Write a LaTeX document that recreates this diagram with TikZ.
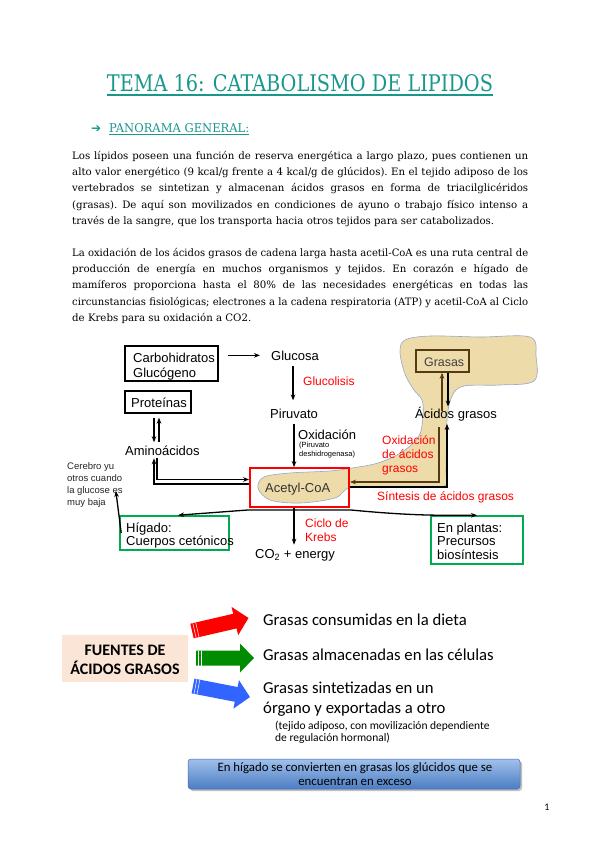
\documentclass[tikz,border=0pt]{standalone}
\usepackage{fontspec}
\setmainfont{Liberation Serif}
\newfontfamily\arialf{Liberation Sans}
\newfontfamily\calibf{Carlito}
\newfontfamily\djvf{DejaVu Sans}
\newfontfamily\djserif{DejaVu Serif}
\usetikzlibrary{arrows.meta,calc}
\definecolor{tealT}{RGB}{24,152,140}
\definecolor{beigeB}{RGB}{238,219,170}
\definecolor{blobedge}{RGB}{150,168,200}
\definecolor{brownA}{RGB}{85,58,20}
\definecolor{greenB}{RGB}{0,170,80}
\definecolor{redA}{RGB}{255,0,0}
\definecolor{greenA}{RGB}{0,140,0}
\definecolor{blueA}{RGB}{50,100,255}
\definecolor{peach}{RGB}{251,229,214}
\definecolor{barTop}{RGB}{160,192,235}
\definecolor{barBot}{RGB}{75,125,195}
\definecolor{barEdge}{RGB}{70,110,175}
\newsavebox\lnbox
\newcommand\jl[1]{\sbox\lnbox{#1}\ifdim\wd\lnbox>456pt \resizebox{456pt}{\height}{\usebox\lnbox}\else\makebox[456pt][s]{#1}\fi}
\tikzset{
 body/.style={anchor=base west, inner sep=0pt, font=\djserif\frenchspacing\fontsize{10.2}{12}\selectfont},
 dia/.style={anchor=base west, inner sep=0pt, font=\arialf\fontsize{13}{15}\selectfont},
 rlab/.style={anchor=base west, inner sep=0pt, text=redA, font=\arialf\fontsize{12}{14}\selectfont},
 smalltxt/.style={anchor=base west, inner sep=0pt, text=black!85, font=\arialf\fontsize{9.5}{11}\selectfont},
 tinytxt/.style={anchor=base west, inner sep=0pt, font=\arialf\fontsize{7.5}{9}\selectfont},
 boxk/.style={draw, line width=1.3pt, inner sep=0pt},
 boxg/.style={draw=greenB, line width=1.6pt, inner sep=0pt},
 arr/.style={-{Stealth[length=6pt,width=4.6pt]}, line width=1.3pt},
 cal/.style={anchor=base west, inner sep=0pt, font=\calibf\fontsize{16.7}{19}\selectfont},
 cals/.style={anchor=base west, inner sep=0pt, font=\calibf\fontsize{11.5}{13}\selectfont},
 bartxt/.style={anchor=base, inner sep=0pt, font=\calibf\fontsize{12.8}{14}\selectfont},
}
\begin{document}
\begin{tikzpicture}[x=1pt,y=-1pt]
\useasboundingbox[fill=white] (0,0) rectangle (600,848);

% ---------- title ----------
\node[anchor=base, inner sep=0pt, text=tealT, font=\djserif] (title) at (300,92) {\resizebox{386pt}{17pt}{TEMA 16: CATABOLISMO DE LIPIDOS}};
\draw[tealT, line width=1.6pt] ([yshift=-2.8pt]title.base west) -- ([yshift=-2.8pt]title.base east);
\node[anchor=base west, inner sep=0pt, text=tealT, font=\djvf\fontsize{12}{12}\selectfont] (parrow) at (91,132) {➔};
\node[anchor=base west, inner sep=0pt, text=tealT, font=\djserif] (pan) at (109,132) {\resizebox{140pt}{9pt}{PANORAMA GENERAL:}};
\draw[tealT, line width=0.8pt] ([yshift=-2.5pt]pan.base west) -- ([yshift=-2.5pt]pan.base east);

% ---------- paragraphs ----------
\node[body] (p1a) at (72,159) {\jl{Los lípidos poseen una función de reserva energética a largo plazo, pues contienen un}};
\node[body] (p1b) at (72,175.3) {\jl{alto valor energético (9 kcal/g frente a 4 kcal/g de glúcidos). En el tejido adiposo de los}};
\node[body] (p1c) at (72,191.6) {\jl{vertebrados se sintetizan y almacenan ácidos grasos en forma de triacilglicéridos}};
\node[body] (p1d) at (72,208) {\jl{(grasas). De aquí son movilizados en condiciones de ayuno o trabajo físico intenso a}};
\node[body] (p1e) at (72,224.3) {través de la sangre, que los transporta hacia otros tejidos para ser catabolizados.};

\node[body] (p2a) at (72,256) {\jl{La oxidación de los ácidos grasos de cadena larga hasta acetil-CoA es una ruta central de}};
\node[body] (p2b) at (72,272.3) {\jl{producción de energía en muchos organismos y tejidos. En corazón e hígado de}};
\node[body] (p2c) at (72,288.6) {\jl{mamíferos proporciona hasta el 80\% de las necesidades energéticas en todas las}};
\node[body] (p2d) at (72,305) {\jl{circunstancias fisiológicas; electrones a la cadena respiratoria (ATP) y acetil-CoA al Ciclo}};
\node[body] (p2e) at (72,321.3) {de Krebs para su oxidación a CO2.};

% ---------- beige blob ----------
\filldraw[fill=beigeB, draw=blobedge, line width=0.6pt]
  plot[smooth cycle, tension=0.55] coordinates {
  (258,488) (264,477) (290,473) (330,471) (352,468) (378,463) (402,452) (419,436)
  (423,415) (422,400) (414,390) (405,374) (400,352) (405,340) (430,336) (480,337)
  (530,337) (536,356) (534,381) (500,385) (464,386) (452,396) (447,420) (446,470)
  (444,486) (400,487) (352,487) (335,498) (300,503) (270,500)};

% ---------- diagram boxes ----------
\node[boxk, minimum width=93pt, minimum height=35pt] (carb) at (171.5,363.5) {};
\node[boxk, minimum width=66pt, minimum height=22pt] (prot) at (158,402) {};
\node[draw=redA, line width=1.8pt, minimum width=99pt, minimum height=39pt, inner sep=0pt] (acetyl) at (299.5,487.5) {};
\node[draw=brownA, line width=1.5pt, minimum width=53pt, minimum height=22pt, inner sep=0pt] (grasas) at (442.5,361) {};
\node[boxg, minimum width=109pt, minimum height=34pt] (higado) at (174.5,533) {};
\node[boxg, minimum width=92pt, minimum height=48pt] (plantas) at (477,540) {};

% ---------- diagram texts ----------
\node[dia] (carbT1) at (133,362) {Carbohidratos};
\node[dia] (carbT2) at (133,377) {Glucógeno};
\node[dia] (glucT) at (271,360) {Glucosa};
\node[rlab] (glucolT) at (303,385) {Glucolisis};
\node[dia] (protT) at (131,407) {Proteínas};
\node[dia] (piruT) at (270,418) {Piruvato};
\node[dia] (aminoT) at (125,455) {Aminoácidos};
\node[dia] (oxT) at (298,439) {Oxidación};
\node[tinytxt] (pdh1) at (299,447.5) {(Piruvato};
\node[tinytxt] (pdh2) at (299,456.5) {deshidrogenasa)};
\node[dia, text=black!80] (acetylT) at (265,492) {Acetyl-CoA};
\node[anchor=base west, inner sep=0pt, text=black!75, font=\arialf\fontsize{12.4}{14}\selectfont] (grasasT) at (424,366) {Grasas};
\node[dia] (acidosT) at (415,418) {Ácidos grasos};
\node[rlab] (oxa1) at (382,444) {Oxidación};
\node[rlab] (oxa2) at (382,458) {de ácidos};
\node[rlab] (oxa3) at (382,472) {grasos};
\node[rlab] (sintT) at (377,500) {Síntesis de ácidos grasos};
\node[smalltxt] (cer1) at (67,469.5) {Cerebro yu};
\node[smalltxt] (cer2) at (67,481.5) {otros cuando};
\node[smalltxt] (cer3) at (67,493.5) {la glucose es};
\node[smalltxt] (cer4) at (67,505.5) {muy baja};
\node[dia] (higT1) at (126,532) {Hígado:};
\node[dia] (higT2) at (126,545.5) {Cuerpos cetónicos};
\node[rlab] (krebs1) at (305,527.5) {Ciclo de};
\node[rlab] (krebs2) at (305,541.5) {Krebs};
\node[dia] (co2T) at (255,558) {CO\textsubscript{2} + energy};
\node[dia] (plT1) at (437,532) {En plantas:};
\node[dia] (plT2) at (437,545.5) {Precursos};
\node[dia] (plT3) at (437,559) {biosíntesis};

% ---------- diagram arrows ----------
\coordinate (c1) at ([xshift=9pt]carb.east);
\draw[arr] (c1 |- glucT.west) -- ([xshift=-11pt]glucT.west);
\draw[arr, shorten <=6pt, shorten >=8pt] ([xshift=-2pt]glucT.south) -- ([xshift=-2pt]glucT.south |- piruT.north);
\draw[arr, shorten <=6pt] (piruT.south) -- (piruT.south |- acetyl.north);
\draw[arr, shorten >=4pt] (acetyl.south -| piruT.south) -- (co2T.north -| piruT.south);
% proteinas <-> aminoacidos
\draw[arr, shorten <=4pt, shorten >=3pt] ([xshift=-4pt]prot.south) -- ([xshift=-4pt]prot.south |- aminoT.north);
\draw[arr, shorten <=3pt, shorten >=4pt] ([xshift=1pt]prot.south |- aminoT.north) -- ([xshift=1pt]prot.south);
% aminoacidos <-> acetyl
\draw[arr, shorten <=3pt] ([xshift=32pt]aminoT.south west) |- ([yshift=8pt]acetyl.west);
\draw[arr, shorten >=3pt] ([yshift=3.5pt]acetyl.west) -| ([xshift=29pt]aminoT.south west);
% acetyl -> higado, plantas
\draw[arr] ([yshift=-2pt]acetyl.south) -- ([yshift=-2pt]acetyl.south west) -- ([xshift=3.5pt]higado.north);
\draw[arr] ([yshift=-2pt]acetyl.south) -- ([yshift=-2pt]acetyl.south east) to[bend right=3] (plantas.north);
% higado -> cerebro
\draw[arr] ([xshift=2pt]higado.west) -- ([xshift=-7pt]cer3.east);
% grasas <-> acidos grasos
\coordinate (gsL) at ([xshift=-0.5pt]grasas.south);
\coordinate (gsR) at ([xshift=5.5pt]grasas.south);
\draw[arr, brownA, shorten <=-4pt] (gsL |- acidosT.north) -- (gsL);
\draw[arr] (gsR) -- (gsR |- acidosT.north);
% oxidation / synthesis paths
\draw[arr, brownA, shorten <=6pt] ([xshift=24pt]acidosT.south west) |- ([yshift=5.5pt]acetyl.east);
\draw[arr, shorten >=3pt] ([yshift=0.5pt]acetyl.east) -| ([xshift=32pt]acidosT.south west);

% ---------- lower section ----------
\node[fill=peach, minimum width=126pt, minimum height=47pt, inner sep=0pt] (fuentes) at (125,658.5) {};
\node[anchor=base, inner sep=0pt, font=\calibf\bfseries\fontsize{16}{19}\selectfont] (fuT1) at (125,655) {FUENTES DE};
\node[anchor=base, inner sep=0pt, font=\calibf\bfseries\fontsize{16}{19}\selectfont] (fuT2) at (125,674) {ÁCIDOS GRASOS};

\begin{scope}[shift={(192,631)}, rotate=13]
  \fill[redA] (0,-7.5) -- (44,-7.5) -- (44,-14.5) -- (58,0) -- (44,14.5) -- (44,7.5) -- (0,7.5) -- cycle;
  \draw[white, line width=0.5pt] (2.5,-7.5) -- (2.5,7.5) (5.5,-7.5) -- (5.5,7.5);
\end{scope}
\begin{scope}[shift={(196,658)}]
  \fill[greenA] (0,-7.5) -- (44,-7.5) -- (44,-14.5) -- (58,0) -- (44,14.5) -- (44,7.5) -- (0,7.5) -- cycle;
  \draw[white, line width=0.5pt] (2.5,-7.5) -- (2.5,7.5) (5.5,-7.5) -- (5.5,7.5);
\end{scope}
\begin{scope}[shift={(193,686)}, rotate=-11]
  \fill[blueA] (0,-7.5) -- (44,-7.5) -- (44,-14.5) -- (58,0) -- (44,14.5) -- (44,7.5) -- (0,7.5) -- cycle;
  \draw[white, line width=0.5pt] (2.5,-7.5) -- (2.5,7.5) (5.5,-7.5) -- (5.5,7.5);
\end{scope}

\node[cal] (f1) at (263,625) {Grasas consumidas en la dieta};
\node[cal] (f2) at (263,660) {Grasas almacenadas en las células};
\node[cal] (f3) at (263,693) {Grasas sintetizadas en un};
\node[cal] (f4) at (263,713) {órgano y exportadas a otro};
\node[cals] (f5) at (275,729) {(tejido adiposo, con movilización dependiente};
\node[cals] (f6) at (275,741.5) {de regulación hormonal)};

% blue bar
\fill[black!25, rounded corners=3pt] (190,761) rectangle (522,791);
\shade[top color=barTop, bottom color=barBot, rounded corners=3pt, draw=barEdge, line width=0.5pt] (188,759) rectangle (520,789);
\node[bartxt] (bar1) at (355,771) {En hígado se convierten en grasas los glúcidos que se};
\node[bartxt] (bar2) at (355,785) {encuentran en exceso};

\node[anchor=base, inner sep=0pt, font=\calibf\fontsize{10}{12}\selectfont] (pageno) at (547,810) {1};
\end{tikzpicture}
\end{document}
